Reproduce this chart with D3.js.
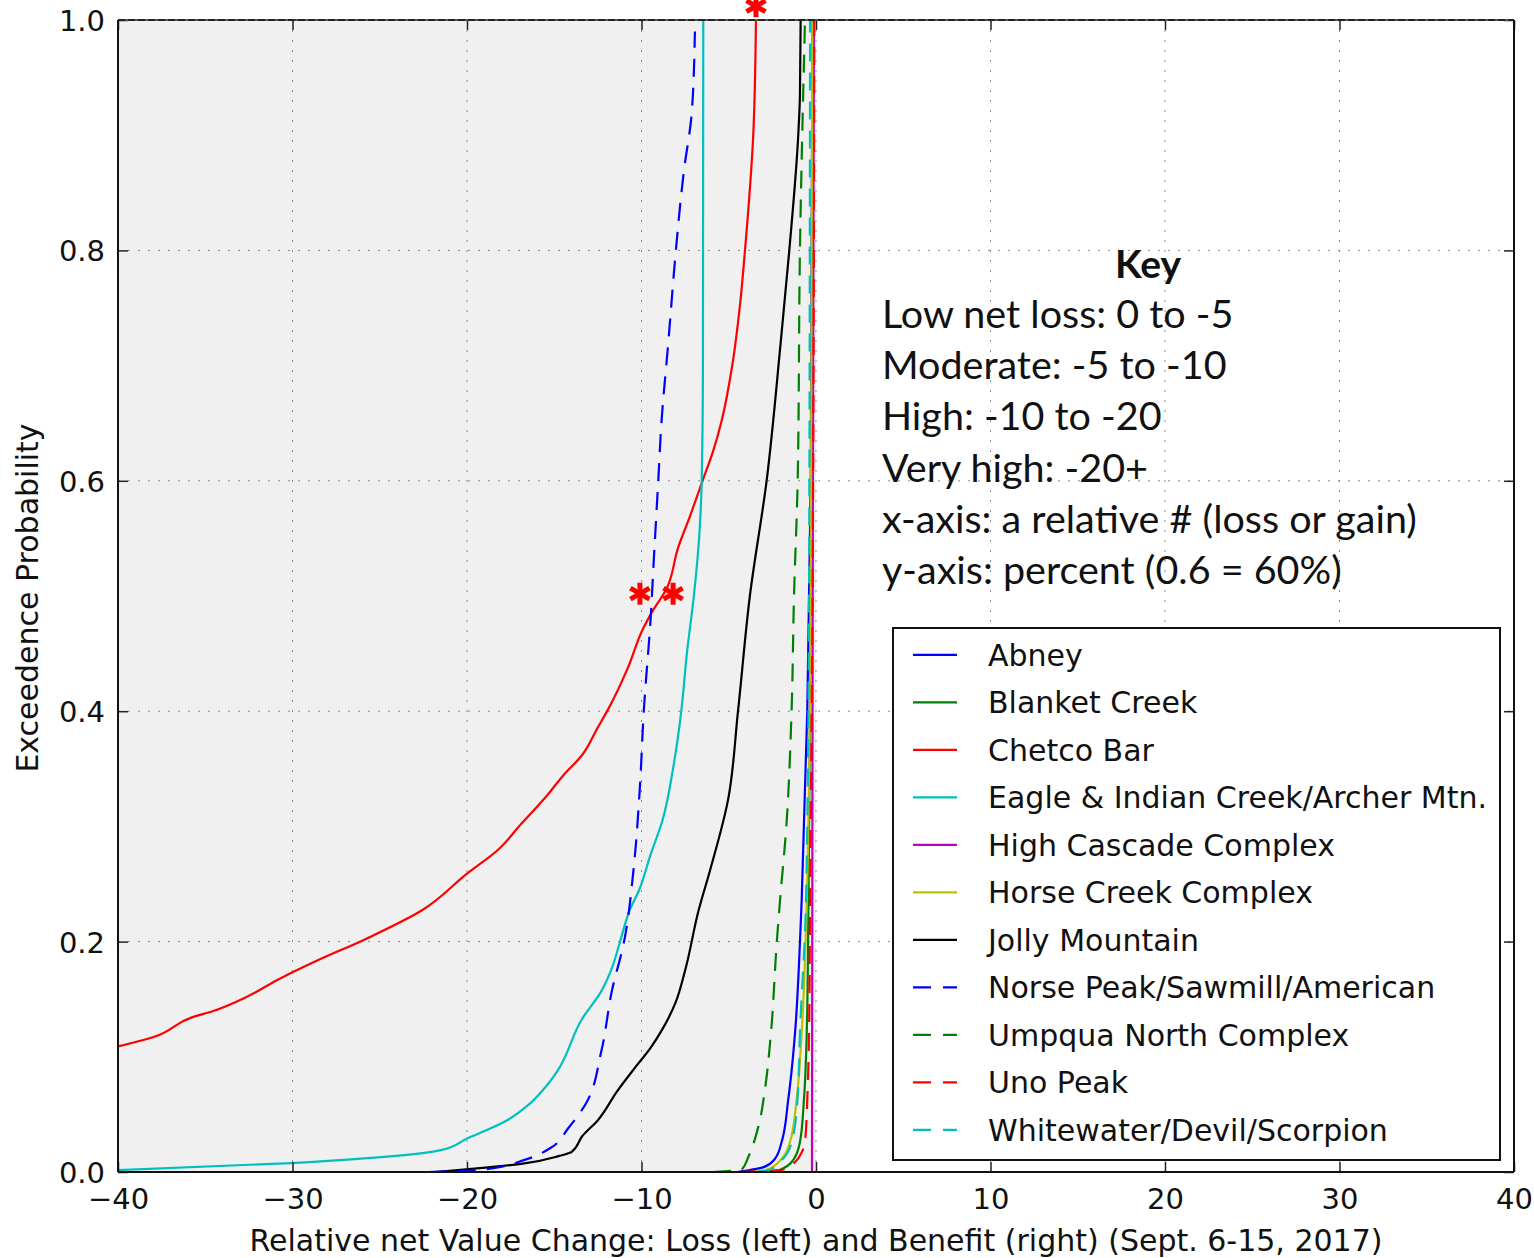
<!DOCTYPE html>
<html>
<head>
<meta charset="utf-8">
<script src="https://d3js.org/d3.v7.min.js"></script>
<style>
  body { margin: 0; background: #fff; }
  text { font-family: "DejaVu Sans", sans-serif; fill: #111; }
</style>
</head>
<body>
<svg id="chart" width="1534" height="1258"></svg>
<script>
// ticks
const xTicks = [-40, -30, -20, -10, 0, 10, 20, 30, 40];
const yTicks = [0, 0.2, 0.4, 0.6, 0.8, 1.0];

// series: [value change, exceedence probability]
const abney = [[-4.5, 0], [-3.97, 0.0012], [-3.03, 0.004], [-2.35, 0.0115], [-1.97, 0.026], [-1.59, 0.063], [-1.2, 0.121], [-0.92, 0.199], [-0.82, 0.236], [-0.5, 0.4], [-0.3, 0.6], [-0.2, 1.0]];
const blanketCreek = [[-3.0, 0], [-2.06, 0.002], [-1.3, 0.0105], [-0.92, 0.026], [-0.69, 0.063], [-0.53, 0.121], [-0.43, 0.236], [-0.3, 0.5], [-0.15, 1.0]];
const chetcoBar = [[-40, 0.109], [-38, 0.117], [-35.8, 0.134], [-34.5, 0.140], [-32.9, 0.150], [-30.7, 0.168], [-28.8, 0.182], [-25.7, 0.203], [-22.6, 0.227], [-20, 0.259], [-18.2, 0.280], [-16.9, 0.302], [-15.4, 0.327], [-14.5, 0.344], [-13.4, 0.362], [-12.5, 0.386], [-11.9, 0.402], [-10.8, 0.437], [-9.9, 0.472], [-9.4, 0.486], [-8.57, 0.506], [-7.9, 0.542], [-7.23, 0.569], [-6.5, 0.6], [-5.89, 0.626], [-5.41, 0.652], [-4.78, 0.702], [-4.36, 0.752], [-4.07, 0.8], [-3.6, 0.899], [-3.44, 1.0]];
const eagleIndian = [[-40, 0.0017], [-30.1, 0.0077], [-25.7, 0.012], [-21.5, 0.019], [-20, 0.029], [-17.8, 0.044], [-16.5, 0.058], [-15.6, 0.072], [-14.85, 0.087], [-13.4, 0.133], [-12.3, 0.157], [-11.67, 0.178], [-11.23, 0.2], [-10.68, 0.227], [-10.13, 0.245], [-9.47, 0.276], [-8.82, 0.304], [-8.16, 0.353], [-7.72, 0.4], [-7.4, 0.45], [-7.0, 0.5], [-6.7, 0.55], [-6.55, 0.6], [-6.48, 0.7], [-6.46, 1.0]];
const highCascade = [[-0.23, 0], [-0.19, 0.5], [-0.12, 1.0]];
const horseCreek = [[-3.6, 0], [-2.82, 0.002], [-1.97, 0.0115], [-1.49, 0.026], [-1.11, 0.063], [-0.82, 0.121], [-0.53, 0.236], [-0.3, 0.5], [-0.21, 1.0]];
const jollyMountain = [[-21.8, 0], [-19.1, 0.0035], [-16.9, 0.007], [-14.7, 0.014], [-14.0, 0.0175], [-13.4, 0.031], [-12.5, 0.045], [-11.4, 0.07], [-10.35, 0.091], [-9.47, 0.108], [-8.8, 0.124], [-8.05, 0.147], [-7.5, 0.175], [-6.73, 0.227], [-6.07, 0.262], [-5.04, 0.323], [-4.47, 0.4], [-3.79, 0.5], [-2.83, 0.6], [-2.03, 0.719], [-1.53, 0.8], [-1.01, 0.902], [-0.92, 0.935], [-0.88, 1.0]];
const norsePeak = [[-22.2, 0], [-19.1, 0.002], [-16.7, 0.0105], [-15.2, 0.021], [-14.2, 0.038], [-13.2, 0.059], [-12.3, 0.105], [-11.7, 0.157], [-11.0, 0.2], [-10.46, 0.262], [-10.1, 0.332], [-9.87, 0.4], [-9.47, 0.482], [-9.3, 0.53], [-9.04, 0.6], [-8.85, 0.652], [-8.47, 0.719], [-8.03, 0.8], [-7.57, 0.869], [-7.13, 0.918], [-6.94, 0.99]];
const umpquaNorth = [[-5.9, 0], [-4.26, 0.002], [-3.88, 0.013], [-3.31, 0.039], [-2.88, 0.077], [-2.58, 0.121], [-2.25, 0.199], [-2.06, 0.236], [-1.7, 0.3], [-1.4, 0.4], [-1.26, 0.5], [-1.05, 0.6], [-0.92, 0.8], [-0.63, 1.0]];
const unoPeak = [[-4.5, 0], [-1.89, 0.002], [-1.2, 0.0085], [-0.82, 0.017], [-0.63, 0.026], [-0.5, 0.063], [-0.4, 0.121], [-0.34, 0.236], [-0.2, 0.5], [-0.1, 1.0]];
const whitewater = [[-3.4, 0], [-2.64, 0.002], [-1.89, 0.0115], [-1.39, 0.026], [-1.06, 0.063], [-0.92, 0.121], [-0.57, 0.236], [-0.4, 0.5], [-0.34, 1.0]];

const names = ["Abney", "Blanket Creek", "Chetco Bar", "Eagle & Indian Creek/Archer Mtn.", "High Cascade Complex",
  "Horse Creek Complex", "Jolly Mountain", "Norse Peak/Sawmill/American", "Umpqua North Complex", "Uno Peak",
  "Whitewater/Devil/Scorpion"];
const seriesData = [abney, blanketCreek, chetcoBar, eagleIndian, highCascade, horseCreek, jollyMountain,
  norsePeak, umpquaNorth, unoPeak, whitewater];
const colors = ["#0000ff", "#008000", "#ff0000", "#00bfbf", "#bf00bf", "#bfbf00", "#000000",
  "#0000ff", "#008000", "#ff0000", "#00bfbf"];
const dashed = [false, false, false, false, false, false, false, true, true, true, true];

// red asterisk annotations
const stars = [[-10.09, 0.502], [-8.19, 0.502], [-3.44, 1.012]];

const keyTitle = "Key";
const keyLines = ["Low net loss: 0 to -5", "Moderate: -5 to -10", "High: -10 to -20", "Very high: -20+",
  "x-axis: a relative # (loss or gain)", "y-axis: percent (0.6 = 60%)"];

const pLeft = 118, pRight = 1514, pTop = 20, pBottom = 1172;

const svg = d3.select("#chart");
const x = d3.scaleLinear().domain([-40, 40]).range([pLeft, pRight]);
const y = d3.scaleLinear().domain([0, 1]).range([pBottom, pTop]);

// background: loss side shaded
svg.append("rect")
  .attr("x", x(-40)).attr("y", y(1))
  .attr("width", x(0) - x(-40)).attr("height", y(0) - y(1))
  .attr("fill", "#f0f0f0");

// grid
const grid = svg.append("g").attr("stroke", "#8a8a8a").attr("stroke-width", 1).attr("stroke-dasharray", "2,8");
grid.selectAll(".gx").data(xTicks.slice(1, -1)).join("line")
  .attr("x1", d => x(d)).attr("x2", d => x(d)).attr("y1", pTop).attr("y2", pBottom);
grid.selectAll(".gy").data(yTicks.slice(1, -1)).join("line")
  .attr("y1", d => y(d)).attr("y2", d => y(d)).attr("x1", pLeft).attr("x2", pRight);

// curves
const line = d3.line().x(d => x(d[0])).y(d => y(d[1])).curve(d3.curveMonotoneY);
svg.append("g").selectAll("path")
  .data(seriesData)
  .join("path")
  .attr("d", line)
  .attr("fill", "none")
  .attr("stroke", (d, i) => colors[i])
  .attr("stroke-width", 2.2)
  .attr("stroke-dasharray", (d, i) => dashed[i] ? "18,11" : null);

// axes with inward ticks on all four sides
const axB = svg.append("g").attr("transform", `translate(0,${pBottom})`)
  .call(d3.axisBottom(x).tickValues(xTicks).tickSizeInner(-10).tickSizeOuter(0).tickPadding(16));
const axT = svg.append("g").attr("transform", `translate(0,${pTop})`)
  .call(d3.axisTop(x).tickValues(xTicks).tickSizeInner(-10).tickSizeOuter(0).tickFormat(""));
const axL = svg.append("g").attr("transform", `translate(${pLeft},0)`)
  .call(d3.axisLeft(y).tickValues(yTicks).tickFormat(d3.format(".1f")).tickSizeInner(-10).tickSizeOuter(0).tickPadding(13));
const axR = svg.append("g").attr("transform", `translate(${pRight},0)`)
  .call(d3.axisRight(y).tickValues(yTicks).tickSizeInner(-10).tickSizeOuter(0).tickFormat(""));

[axB, axT, axL, axR].forEach(a => {
  a.select(".domain").remove();
  a.selectAll(".tick line").attr("stroke", "#222").attr("stroke-width", 1.5);
  a.selectAll("text").attr("font-size", 29).attr("font-family", "DejaVu Sans").attr("fill", "#111");
});
axB.selectAll("text").attr("dy", "0.71em");
axL.selectAll("text").attr("dy", "0.36em");

// spines
const spine = svg.append("g").attr("fill", "none").attr("stroke", "#111").attr("stroke-width", 2);
spine.append("line").attr("x1", pLeft).attr("x2", pLeft).attr("y1", pTop).attr("y2", pBottom);
spine.append("line").attr("x1", pRight).attr("x2", pRight).attr("y1", pTop).attr("y2", pBottom);
spine.append("line").attr("x1", pLeft).attr("x2", pRight).attr("y1", pBottom).attr("y2", pBottom);
spine.append("line").attr("x1", pLeft).attr("x2", pRight).attr("y1", pTop).attr("y2", pTop)
  .attr("stroke", "#555");
spine.append("line").attr("x1", pLeft).attr("x2", pRight).attr("y1", pTop).attr("y2", pTop)
  .attr("stroke", "#222").attr("stroke-dasharray", "7,3");

// axis labels
svg.append("text")
  .attr("x", (pLeft + pRight) / 2).attr("y", 1251)
  .attr("text-anchor", "middle").attr("font-size", 30)
  .text("Relative net Value Change: Loss (left) and Benefit (right) (Sept. 6-15, 2017)");
svg.append("text")
  .attr("transform", `translate(38,${(pTop + pBottom) / 2 + 2}) rotate(-90)`)
  .attr("text-anchor", "middle").attr("font-size", 30)
  .text("Exceedence Probability");

// asterisks
const starG = svg.append("g").attr("stroke", "#ff0000").attr("stroke-width", 5).attr("stroke-linecap", "butt");
stars.forEach(s => {
  const g = starG.append("g").attr("transform", `translate(${x(s[0])},${y(s[1])})`);
  [90, 30, 150].forEach(a => {
    const r = 11, t = a * Math.PI / 180;
    g.append("line")
      .attr("x1", -r * Math.cos(t)).attr("y1", -r * Math.sin(t))
      .attr("x2", r * Math.cos(t)).attr("y2", r * Math.sin(t));
  });
});

// key text
const keyFont = "Lato, 'Open Sans', sans-serif";
svg.append("text")
  .attr("x", 1148).attr("y", 278)
  .attr("text-anchor", "middle").attr("font-size", 39).attr("font-weight", "bold")
  .style("font-family", keyFont)
  .text(keyTitle);
svg.append("g").selectAll("text")
  .data(keyLines)
  .join("text")
  .attr("x", 882).attr("y", (d, i) => 328 + i * 51.2)
  .attr("font-size", 39.5)
  .style("font-family", keyFont)
  .text(d => d);

// legend
const legend = svg.append("g");
legend.append("rect")
  .attr("x", 893).attr("y", 628).attr("width", 607).attr("height", 532)
  .attr("fill", "#fff").attr("stroke", "#111").attr("stroke-width", 2);
const item = legend.selectAll(".item")
  .data(names)
  .join("g")
  .attr("transform", (d, i) => `translate(0,${654.8 + i * 47.5})`);
item.append("line")
  .attr("x1", 913).attr("x2", 957)
  .attr("stroke", (d, i) => colors[i])
  .attr("stroke-width", 2.2)
  .attr("stroke-dasharray", (d, i) => dashed[i] ? "18,12" : null);
item.append("text")
  .attr("x", 988).attr("y", 0).attr("dy", "0.36em")
  .attr("font-size", 30)
  .text(d => d);
</script>
</body>
</html>
